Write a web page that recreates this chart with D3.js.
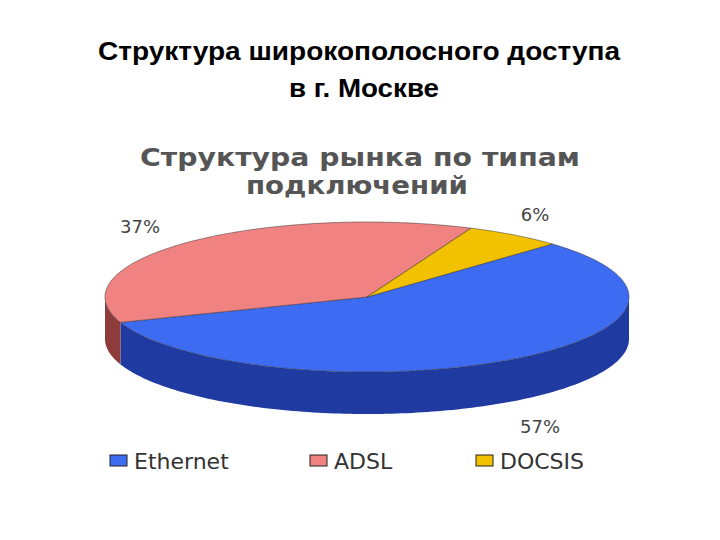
<!DOCTYPE html>
<html><head><meta charset="utf-8">
<script src="https://cdn.jsdelivr.net/npm/d3@7/dist/d3.min.js"></script>
<style>body{margin:0;background:#fff}</style></head>
<body><svg id="c" width="720" height="540"></svg>
<script>
const categories = ["Ethernet", "ADSL", "DOCSIS"];
const values = [57, 37, 6];
const labels = ["57%", "37%", "6%"];
const topColors = ["#3d6cf2", "#f08282", "#f2c200"];
const sideColors = ["#1f3aa0", "#8e3b3b", "#a88400"];

const svg = d3.select("#c");
const cx = 367, cy = 297, rx = 262, ry = 75, h = 42;
const startDeg = -45;
const ang = d3.scaleLinear().domain([0, 2 * Math.PI]).range([startDeg * Math.PI / 180, (startDeg + 360) * Math.PI / 180]);
const arcs = d3.pie().sort(null).value(d => d)(values);
const pt = (t, dy = 0) => [cx + rx * Math.cos(t), cy + ry * Math.sin(t) + dy];

function samples(a, b) { const n = Math.max(2, Math.ceil(Math.abs(b - a) / 0.02)); return d3.range(n + 1).map(i => a + (b - a) * i / n); }

function title(x, y, txt, size, fill, len, fam) {
  svg.append("text").attr("x", x).attr("y", y).attr("text-anchor", "middle").attr("font-family", fam).attr("font-weight", "bold").attr("font-size", size).attr("fill", fill).attr("textLength", len).attr("lengthAdjust", "spacingAndGlyphs").text(txt);
}
title(359, 60, "Структура широкополосного доступа", 25, "#000", 522, "Liberation Sans, Arial");
title(364, 97, "в г. Москве", 25, "#000", 150, "Liberation Sans, Arial");
title(360, 166, "Структура рынка по типам", 25, "#555", 440, "DejaVu Sans");
title(357, 194, "подключений", 25, "#555", 222, "DejaVu Sans");

arcs.forEach((a, i) => {
  let s = ang(a.startAngle), e = ang(a.endAngle);
  [[0, Math.PI], [2 * Math.PI, 3 * Math.PI], [-2 * Math.PI, -Math.PI]].forEach(([lo, hi]) => {
    const A = Math.max(s, lo), B = Math.min(e, hi);
    if (B > A) {
      const ts = samples(A, B);
      const p = ts.map(t => pt(t)).concat(ts.slice().reverse().map(t => pt(t, h)));
      svg.append("path").attr("d", "M" + p.map(q => q.join(",")).join("L") + "Z").attr("fill", sideColors[i]);
    }
  });
});
arcs.forEach((a, i) => {
  const ts = samples(ang(a.startAngle), ang(a.endAngle));
  const p = [[cx, cy]].concat(ts.map(t => pt(t)));
  svg.append("path").attr("d", "M" + p.map(q => q.join(",")).join("L") + "Z").attr("fill", topColors[i]).attr("stroke", "#333").attr("stroke-width", 0.5);
});

const labelPos = [[540, 433], [140, 233], [535, 221]];
labels.forEach((l, i) => svg.append("text").attr("x", labelPos[i][0]).attr("y", labelPos[i][1]).attr("text-anchor", "middle").attr("font-family", "DejaVu Sans").attr("font-size", 18).attr("fill", "#444").text(l));

const legX = [110, 310, 476];
categories.forEach((c, i) => {
  svg.append("rect").attr("x", legX[i]).attr("y", 455).attr("width", 17).attr("height", 11).attr("fill", topColors[i]).attr("stroke", "#222");
  svg.append("text").attr("x", legX[i] + 24).attr("y", 469).attr("font-family", "DejaVu Sans").attr("font-size", 22).attr("fill", "#333").text(c);
});
</script></body></html>
